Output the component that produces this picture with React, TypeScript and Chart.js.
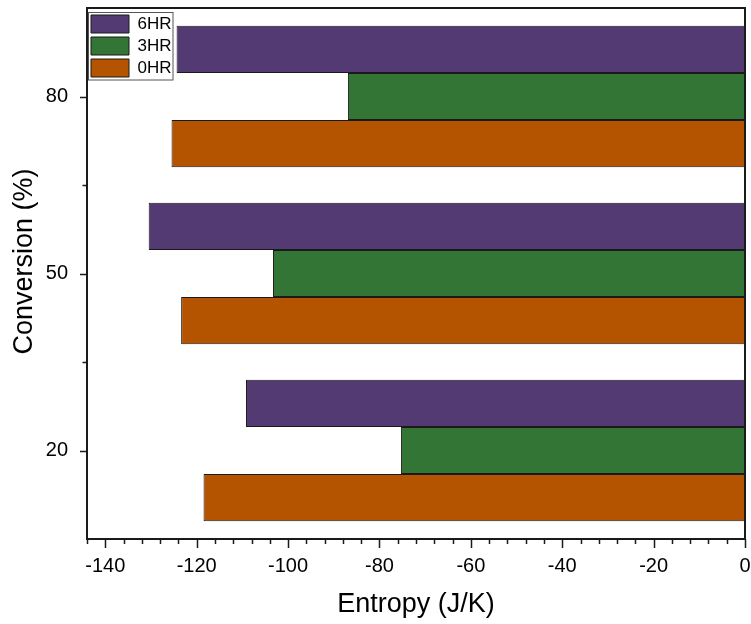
import React, { useEffect, useRef } from "react";
import { Chart, registerables } from "chart.js";

Chart.register(...registerables);

// Conversion levels, listed top to bottom
const conversions = ["80", "50", "20"];

// Entropy (J/K) per conversion level for each ageing time
const entropy6HR = [-124.4, -130.5, -109.2];
const entropy3HR = [-86.9, -103.3, -75.3];
const entropy0HR = [-125.5, -123.4, -118.5];

// Axis settings
const xMin = -144;
const xMax = 0;
const xMajorTicks = [-140, -120, -100, -80, -60, -40, -20, 0];
const xMinorStep = 4;
const yTitle = "Conversion (%)";

const FONT = "'Liberation Sans', Arial, Helvetica, sans-serif";
const INK = "#1a1a1a";

// Frame around the plot area, plus major/minor tick marks pointing outward
const frameAndTicks = {
  id: "frameAndTicks",
  afterDraw(chart: any) {
    const { ctx, chartArea } = chart;
    const xs = chart.scales.x;
    const ys = chart.scales.y;
    ctx.save();
    ctx.strokeStyle = INK;
    ctx.lineWidth = 1.5;
    ctx.beginPath();
    // x ticks
    for (let v = xMin; v <= xMax + 1e-9; v += xMinorStep) {
      const px = Math.round(xs.getPixelForValue(v)) + 0.5;
      const major = xMajorTicks.includes(v);
      ctx.moveTo(px, chartArea.bottom);
      ctx.lineTo(px, chartArea.bottom + (major ? 9 : 5));
    }
    // y ticks: major at category centres, minor between categories
    const n = conversions.length;
    for (let i = 0; i < n; i++) {
      const py = Math.round(ys.getPixelForValue(i)) + 0.5;
      ctx.moveTo(chartArea.left, py);
      ctx.lineTo(chartArea.left - 7, py);
      if (i < n - 1) {
        const mid = Math.round((ys.getPixelForValue(i) + ys.getPixelForValue(i + 1)) / 2) + 0.5;
        ctx.moveTo(chartArea.left, mid);
        ctx.lineTo(chartArea.left - 4.5, mid);
      }
    }
    ctx.stroke();
    // plot frame
    ctx.lineWidth = 2;
    ctx.strokeRect(
      chartArea.left,
      chartArea.top,
      chartArea.right - chartArea.left,
      chartArea.bottom - chartArea.top
    );

    // vertical axis title, set slightly above the axis middle
    ctx.translate(25, (chartArea.top + chartArea.bottom) / 2 - 12);
    ctx.rotate(-Math.PI / 2);
    ctx.fillStyle = "#000";
    ctx.font = `27px ${FONT}`;
    ctx.textAlign = "center";
    ctx.textBaseline = "middle";
    ctx.fillText(yTitle, 0, 0);
    ctx.restore();
  },
};

// Places the in-plot legend and outlines it with a thin box
const legendBox = {
  id: "legendBox",
  afterLayout(chart: any) {
    if (chart.legend) chart.legend.top += 11;
  },
  afterDraw(chart: any) {
    const lg = chart.legend;
    if (!lg || !lg.legendHitBoxes || !lg.legendHitBoxes.length) return;
    const boxes = lg.legendHitBoxes;
    let l = Infinity, t = Infinity, r = -Infinity, b = -Infinity;
    for (const hb of boxes) {
      l = Math.min(l, hb.left);
      t = Math.min(t, hb.top);
      r = Math.max(r, hb.left + hb.width);
      b = Math.max(b, hb.top + hb.height);
    }
    const { ctx } = chart;
    ctx.save();
    ctx.strokeStyle = "#555";
    ctx.lineWidth = 1;
    const x0 = Math.round(l - 3) + 0.5;
    const y0 = Math.round(t - 3) + 0.5;
    ctx.strokeRect(x0, y0, Math.round(r + 1) - x0, Math.round(b + 3) - y0);
    ctx.restore();
  },
};

export default function App() {
  const canvasRef = useRef<HTMLCanvasElement | null>(null);

  useEffect(() => {
    const canvas = canvasRef.current;
    if (!canvas) return;
    const chart = new Chart(canvas, {
      type: "bar",
      data: {
        labels: conversions,
        datasets: [
          {
            label: "6HR",
            data: entropy6HR,
            backgroundColor: "#533A72",
            borderColor: INK,
            borderWidth: 1,
          },
          {
            label: "3HR",
            data: entropy3HR,
            backgroundColor: "#327534",
            borderColor: INK,
            borderWidth: 1,
          },
          {
            label: "0HR",
            data: entropy0HR,
            backgroundColor: "#B45400",
            borderColor: INK,
            borderWidth: 1,
          },
        ],
      },
      options: {
        indexAxis: "y",
        responsive: false,
        animation: false,
        events: [],
        datasets: {
          bar: {
            barPercentage: 1,
            categoryPercentage: 0.8,
            borderSkipped: false,
          },
        },
        layout: { padding: { top: 8, right: 6, left: 0, bottom: 0 } },
        scales: {
          x: {
            type: "linear",
            min: xMin,
            max: xMax,
            grid: { display: false, drawTicks: false, tickLength: 0 },
            border: { display: false },
            afterBuildTicks: (scale: any) => {
              scale.ticks = xMajorTicks.map((v) => ({ value: v }));
            },
            afterFit: (scale: any) => {
              scale.height = 85;
              scale.paddingLeft = 0;
              scale.paddingRight = 0;
            },
            ticks: {
              padding: 15,
              color: "#000",
              font: { family: FONT, size: 20 },
              maxRotation: 0,
              autoSkip: false,
              callback: (v: any) => String(v),
            },
            title: {
              display: true,
              text: "Entropy (J/K)",
              color: "#000",
              font: { family: FONT, size: 27 },
              padding: { top: 4, bottom: 3 },
            },
          },
          y: {
            type: "category",
            grid: { display: false, drawTicks: false, tickLength: 0 },
            border: { display: false },
            afterFit: (scale: any) => {
              scale.width = 87;
              scale.paddingTop = 0;
              scale.paddingBottom = 0;
            },
            ticks: {
              padding: 19,
              color: "#000",
              font: { family: FONT, size: 20 },
            },
            title: { display: false },
          },
        },
        plugins: {
          legend: {
            position: "chartArea",
            align: "start",
            labels: {
              boxWidth: 38,
              boxHeight: 18,
              padding: 4,
              color: "#000",
              font: { family: FONT, size: 17 },
            },
          },
          tooltip: { enabled: false },
        },
      },
      plugins: [frameAndTicks, legendBox],
    } as any);
    return () => chart.destroy();
  }, []);

  return (
    <div style={{ position: "fixed", left: 0, top: 0, width: 751, height: 624, background: "#fff" }}>
      <canvas ref={canvasRef} width={751} height={624} style={{ display: "block" }} />
    </div>
  );
}
